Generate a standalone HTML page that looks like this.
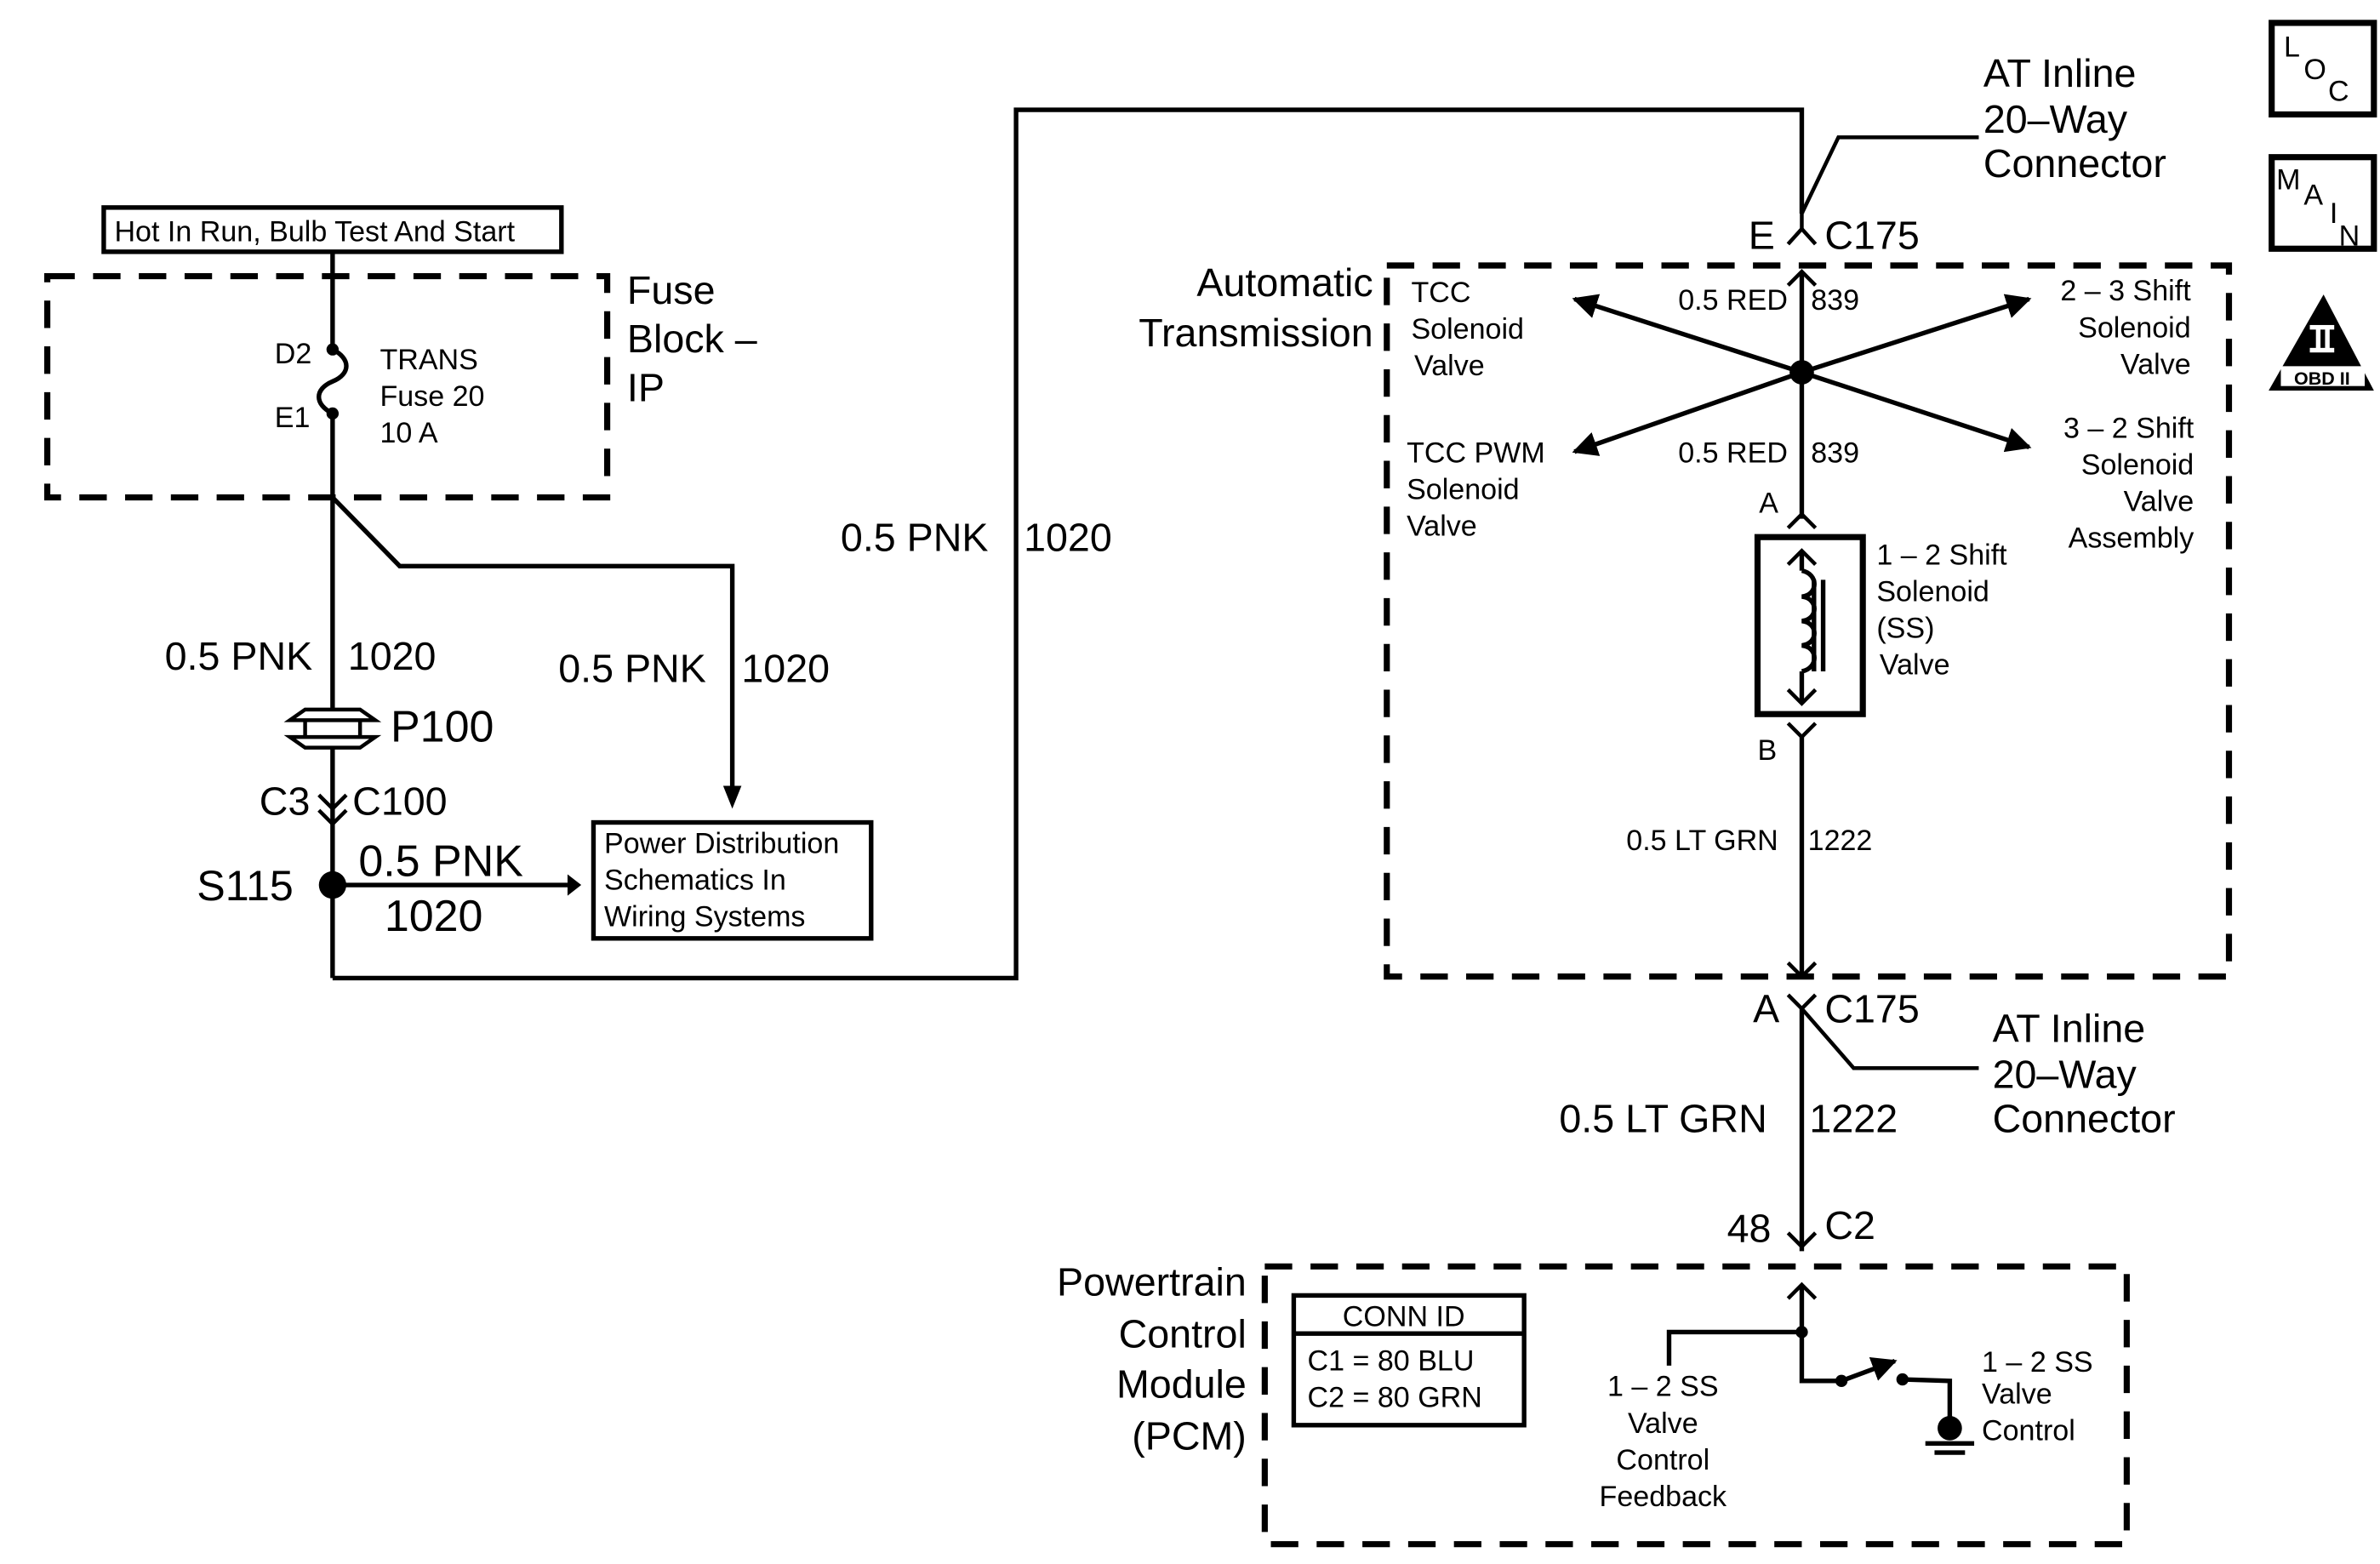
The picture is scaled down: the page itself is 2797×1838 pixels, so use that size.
<!DOCTYPE html>
<html><head><meta charset="utf-8"><style>html,body{margin:0;padding:0;background:#fff}svg{display:block}</style></head>
<body>
<svg width="2797" height="1838" viewBox="0 0 1560 1025" preserveAspectRatio="none" xmlns="http://www.w3.org/2000/svg" font-family="Liberation Sans, Arial, sans-serif" fill="#000">
<defs>
<marker id="ah" viewBox="0 0 10 10" refX="9" refY="5" markerWidth="5.5" markerHeight="5.5" orient="auto-start-reverse"><path d="M0,0 L10,5 L0,10 Z"/></marker>
</defs>
<g stroke="#000" stroke-width="3" fill="none">
<rect x="68" y="136" width="300" height="29" stroke-width="3"/>
<rect x="31" y="181" width="367" height="145" stroke-dasharray="18,12" stroke-width="4"/>
<line x1="218" y1="165" x2="218" y2="229"/>
<path d="M218,229 C230,235 230,245 218,250 C206,255 206,265 218,271"/>
<line x1="218" y1="271" x2="218" y2="466"/>
<path d="M218,326 L262,371 L480,371 L480,520"/>
<line x1="218" y1="491" x2="218" y2="641"/>
<path d="M218,641 L666,641 L666,72 L1181,72 L1181,140"/>
<line x1="218" y1="580" x2="372" y2="580"/>
<rect x="389" y="539" width="182" height="76"/>
<path d="M200,465 L236,465 L246,472 L190,472 Z M190,483 L246,483 L236,490 L200,490 Z" stroke-width="2.5"/>
<line x1="200" y1="472" x2="200" y2="483" stroke-width="2.5"/><line x1="236" y1="472" x2="236" y2="483" stroke-width="2.5"/>
<path d="M209,521 L218,530 L227,521 M209,531 L218,540 L227,531" stroke-width="2.5"/>
<rect x="909" y="174" width="552" height="466" stroke-dasharray="18,12" stroke-width="4"/>
<path d="M1172,160 L1181,150 L1190,160" stroke-width="2.5"/>
<path d="M1181,150 L1181,140 L1205,90 L1297,90" stroke-width="2.5"/>
<line x1="1181" y1="178" x2="1181" y2="340"/>
<path d="M1172,187 L1181,178 L1190,187" stroke-width="2.5"/>
<line x1="1181" y1="244" x2="1032" y2="196" marker-end="url(#ah)"/>
<line x1="1181" y1="244" x2="1330" y2="196" marker-end="url(#ah)"/>
<line x1="1181" y1="244" x2="1032" y2="296" marker-end="url(#ah)"/>
<line x1="1181" y1="244" x2="1330" y2="293" marker-end="url(#ah)"/>
<path d="M1172,346 L1181,337 L1190,346" stroke-width="2.5"/>
<rect x="1152" y="352" width="69" height="116" stroke-width="4"/>
<line x1="1181" y1="361" x2="1181" y2="374"/>
<line x1="1181" y1="440" x2="1181" y2="461"/>
<path d="M1172,370 L1181,361 L1190,370 M1172,452 L1181,461 L1190,452" stroke-width="2.5"/>
<path d="M1181,374 C1192,376 1192,390 1181,391 C1192,392 1192,406 1181,407 C1192,408 1192,422 1181,423 C1192,424 1192,438 1181,440"/>
<line x1="1189" y1="380" x2="1189" y2="440"/><line x1="1195" y1="380" x2="1195" y2="440"/>
<path d="M1172,474 L1181,483 L1190,474" stroke-width="2.5"/>
<line x1="1181" y1="483" x2="1181" y2="640"/>
<path d="M1172,631 L1181,640 L1190,631" stroke-width="2.5"/>
<path d="M1172,652 L1181,661 L1190,652 M1181,661 L1215,700 L1297,700" stroke-width="2.5"/>
<line x1="1181" y1="661" x2="1181" y2="820"/>
<path d="M1172,808 L1181,817 L1190,808" stroke-width="2.5"/>
<rect x="829" y="830" width="565" height="182" stroke-dasharray="18,12" stroke-width="4"/>
<path d="M1172,851 L1181,842 L1190,851" stroke-width="2.5"/>
<path d="M1181,842 L1181,905 L1207,905 M1181,873 L1094,873 L1094,895"/>
<line x1="1207" y1="905" x2="1242" y2="892" marker-end="url(#ah)"/>
<path d="M1247,904 L1278,905 L1278,930"/>
<line x1="1262" y1="946" x2="1294" y2="946"/>
<line x1="1268" y1="952" x2="1288" y2="952"/>
<rect x="848" y="849" width="151" height="85"/>
<line x1="848" y1="874" x2="999" y2="874"/>
<rect x="1489" y="15" width="67" height="60" stroke-width="4"/>
<rect x="1489" y="103" width="67" height="60" stroke-width="4"/>
</g>
<g>
<circle cx="218" cy="229" r="4"/><circle cx="218" cy="271" r="4"/>
<circle cx="218" cy="580" r="9"/>
<path d="M372,573 L381,580 L372,587 Z"/>
<path d="M474,515 L480,530 L486,515 Z"/>
<circle cx="1181" cy="244" r="8"/>
<circle cx="1181" cy="873" r="4"/><circle cx="1207" cy="905" r="4"/><circle cx="1247" cy="904" r="4"/>
<circle cx="1278" cy="936" r="8"/>
<path d="M1523,193 L1556,256 L1487,256 Z"/>
</g>
<rect x="1495" y="240" width="55" height="13" fill="#fff"/>
<rect x="1514" y="213" width="16" height="3" fill="#fff"/><rect x="1514" y="228" width="16" height="3" fill="#fff"/>
<rect x="1518" y="215" width="3" height="14" fill="#fff"/><rect x="1524" y="215" width="3" height="14" fill="#fff"/>
<g font-size="19">
<text x="75" y="158">Hot In Run, Bulb Test And Start</text>
<text x="180" y="238">D2</text><text x="180" y="280">E1</text>
<text x="249" y="242">TRANS</text><text x="249" y="266">Fuse 20</text><text x="249" y="290">10 A</text>
<text x="396" y="559">Power Distribution</text><text x="396" y="583">Schematics In</text><text x="396" y="607">Wiring Systems</text>
<text x="925" y="198">TCC</text><text x="925" y="222">Solenoid</text><text x="927" y="246">Valve</text>
<text x="922" y="303">TCC PWM</text><text x="922" y="327">Solenoid</text><text x="922" y="351">Valve</text>
<text x="1100" y="203">0.5 RED</text><text x="1187" y="203">839</text>
<text x="1100" y="303">0.5 RED</text><text x="1187" y="303">839</text>
<text x="1436" y="197" text-anchor="end">2 – 3 Shift</text><text x="1436" y="221" text-anchor="end">Solenoid</text><text x="1436" y="245" text-anchor="end">Valve</text>
<text x="1438" y="287" text-anchor="end">3 – 2 Shift</text><text x="1438" y="311" text-anchor="end">Solenoid</text><text x="1438" y="335" text-anchor="end">Valve</text><text x="1438" y="359" text-anchor="end">Assembly</text>
<text x="1153" y="336">A</text><text x="1152" y="498">B</text>
<text x="1230" y="370">1 – 2 Shift</text><text x="1230" y="394">Solenoid</text><text x="1230" y="418">(SS)</text><text x="1232" y="442">Valve</text>
<text x="1066" y="557">0.5 LT GRN</text><text x="1185" y="557">1222</text>
<text x="880" y="869">CONN ID</text>
<text x="857" y="898">C1 = 80 BLU</text><text x="857" y="922">C2 = 80 GRN</text>
<text x="1090" y="915" text-anchor="middle">1 – 2 SS</text><text x="1090" y="939" text-anchor="middle">Valve</text><text x="1090" y="963" text-anchor="middle">Control</text><text x="1090" y="987" text-anchor="middle">Feedback</text>
<text x="1299" y="899">1 – 2 SS</text><text x="1299" y="920">Valve</text><text x="1299" y="944">Control</text>
</g>
<g font-size="26">
<text x="411" y="199">Fuse</text><text x="411" y="231">Block –</text><text x="411" y="263">IP</text>
<text x="108" y="439">0.5 PNK</text><text x="228" y="439">1020</text>
<text x="366" y="447">0.5 PNK</text><text x="486" y="447">1020</text>
<text x="256" y="486" font-size="29">P100</text>
<text x="170" y="534">C3</text><text x="231" y="534">C100</text>
<text x="129" y="590" font-size="28">S115</text>
<text x="235" y="574" font-size="29">0.5 PNK</text><text x="252" y="610" font-size="29">1020</text>
<text x="551" y="361">0.5 PNK</text><text x="671" y="361">1020</text>
<text x="900" y="194" text-anchor="end">Automatic</text><text x="900" y="227" text-anchor="end">Transmission</text>
<text x="1300" y="57">AT Inline</text><text x="1300" y="87">20–Way</text><text x="1300" y="116">Connector</text>
<text x="1146" y="163">E</text><text x="1196" y="163">C175</text>
<text x="1149" y="670">A</text><text x="1196" y="670">C175</text>
<text x="1306" y="683">AT Inline</text><text x="1306" y="713">20–Way</text><text x="1306" y="742">Connector</text>
<text x="1022" y="742">0.5 LT GRN</text><text x="1186" y="742">1222</text>
<text x="1132" y="814">48</text><text x="1196" y="812">C2</text>
<text x="817" y="849" text-anchor="end">Powertrain</text><text x="817" y="883" text-anchor="end">Control</text><text x="817" y="916" text-anchor="end">Module</text><text x="817" y="950" text-anchor="end">(PCM)</text>
</g>
<g font-size="19">
<text x="1497" y="37">L</text><text x="1510" y="52">O</text><text x="1526" y="66">C</text>
<text x="1492" y="124">M</text><text x="1510" y="134">A</text><text x="1527" y="146">I</text><text x="1533" y="161">N</text>
<text x="1522" y="252" font-size="12" text-anchor="middle" font-weight="bold">OBD II</text>
</g>
</svg>
</body></html>
